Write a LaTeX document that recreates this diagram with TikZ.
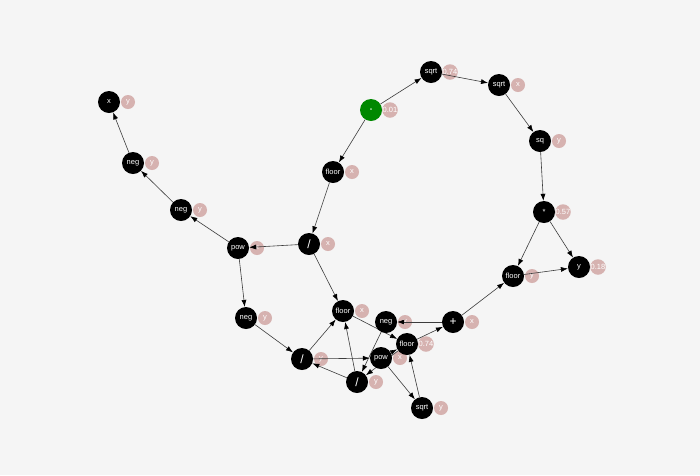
\documentclass[tikz,border=0pt]{standalone}
\usepackage{fontspec}
\setmainfont{Liberation Sans}
\usetikzlibrary{arrows.meta}
\definecolor{paperbg}{RGB}{245,245,245}
\definecolor{tagpink}{RGB}{214,178,176}
\definecolor{rootgreen}{RGB}{0,136,0}
\definecolor{linkgray}{RGB}{60,60,60}
\pgfdeclarelayer{paper}
\pgfdeclarelayer{tags}
\pgfdeclarelayer{links}
\pgfsetlayers{paper,tags,links,main}

\begin{document}
\begin{tikzpicture}[x=1pt,y=-1pt,
  op/.style={circle, fill=black, minimum size=22pt, inner sep=0pt, text=white, font=\fontsize{7.5}{9}\selectfont},
  tag/.style={circle, fill=tagpink, minimum size=14pt, inner sep=0pt, text=white, font=\fontsize{7.5}{9}\selectfont},
  link/.style={draw=linkgray, line width=0.6pt, -{Latex[length=7pt,width=5pt,color=black]}}]
\begin{pgfonlayer}{paper}
\fill[paperbg] (0,0) rectangle (700,475);
\end{pgfonlayer}
% root of the tree
\node[op, fill=rootgreen] (eq) at (371,110) {\bfseries -};
\begin{pgfonlayer}{tags}
\node[tag] (eq-tag) at (390,110) {0.01};
\end{pgfonlayer}
% operator nodes with their tags
\foreach \n/\x/\y/\t/\l in {varX/109/102/x/y, negA/133/163/neg/y, negB/181/210/neg/y,
    powA/238/248/pow/x, divA/309/244/{\large\slash}/x, floorA/333/172/floor/x,
    sqrtA/431/72/sqrt/0.74, sqrtB/499/85/sqrt/x, sq/540/141/sq/y,
    mul/544/212/*/0.57, floorR/513/276/floor/y, varY/579/267/y/0.18,
    negC/246/318/neg/y, floorB/343/311/floor/x, negD/386/322/neg/y,
    plus/453/322/{\large+}/x, floorC/407/344/floor/0.74, divB/302/359/{\large\slash}/y,
    powB/381/358/pow/x, divC/357/382/{\large\slash}/y, sqrtC/422/408/sqrt/y}
{
  \node[op] (\n) at (\x,\y) {\t};
  \begin{pgfonlayer}{tags}
  \node[tag] (\n-tag) at ({\x+19},\y) {\l};
  \end{pgfonlayer}
}
% links
\begin{pgfonlayer}{links}
\foreach \a/\b in {negA/varX, negB/negA, powA/negB, divA/powA, eq/floorA, eq/sqrtA,
    sqrtA/sqrtB, sqrtB/sq, sq/mul, mul/floorR, mul/varY, floorR/varY, plus/floorR,
    floorA/divA, divA/floorB, powA/negC, negC/divB, divB/floorB, divB/powB,
    divC/divB, divC/floorB, floorB/floorC, negD/divC, powB/floorC, floorC/divC,
    powB/sqrtC, sqrtC/floorC, floorC/plus, plus/negD}
  \draw[link] (\a) -- (\b);
\end{pgfonlayer}
\end{tikzpicture}
\end{document}
